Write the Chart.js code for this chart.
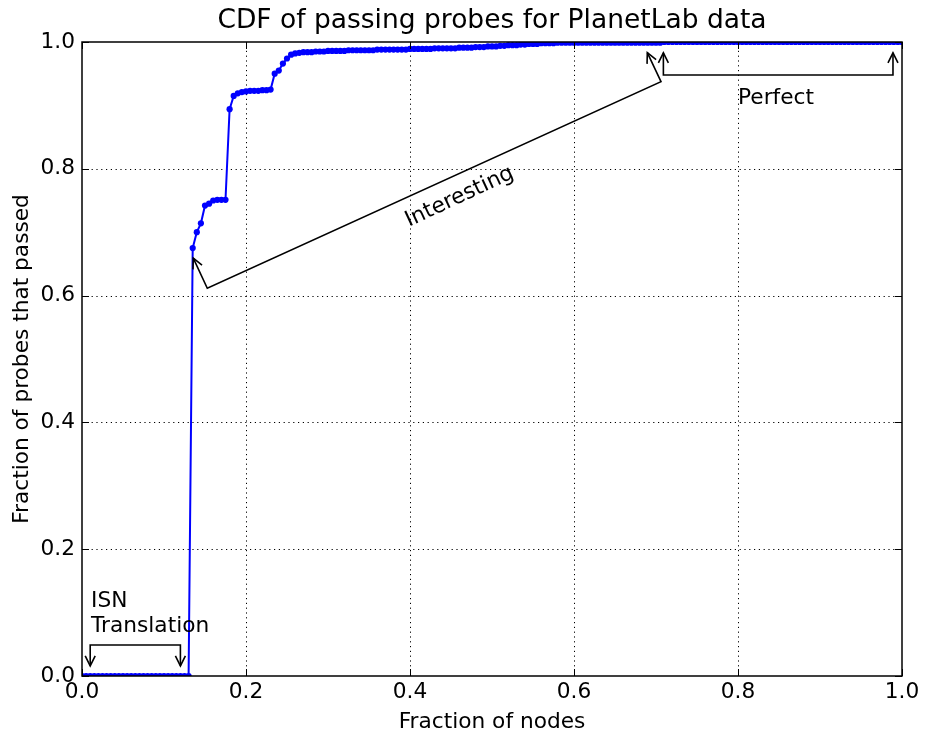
<!DOCTYPE html>
<html><head><meta charset="utf-8">
<script src="https://cdn.jsdelivr.net/npm/chart.js@4/dist/chart.umd.min.js"></script>
<style>html,body{margin:0;padding:0;background:#fff}#wrap{width:925px;height:737px}</style>
</head><body><div id="wrap"><canvas id="c" width="925" height="737"></canvas></div>
<script>
// Fraction of nodes (x) and fraction of probes that passed (y)
const nodeFraction = [
0,0.005,0.01,0.015,0.02,0.025,0.03,0.035,0.04,0.045,
0.05,0.055,0.06,0.065,0.07,0.075,0.08,0.085,0.09,0.095,
0.1,0.105,0.11,0.115,0.12,0.125,0.13,0.135,0.14,0.145,
0.15,0.155,0.16,0.165,0.17,0.175,0.18,0.185,0.19,0.195,
0.2,0.205,0.21,0.215,0.22,0.225,0.23,0.235,0.24,0.245,
0.25,0.255,0.26,0.265,0.27,0.275,0.28,0.285,0.29,0.295,
0.3,0.305,0.31,0.315,0.32,0.325,0.33,0.335,0.34,0.345,
0.35,0.355,0.36,0.365,0.37,0.375,0.38,0.385,0.39,0.395,
0.4,0.405,0.41,0.415,0.42,0.425,0.43,0.435,0.44,0.445,
0.45,0.455,0.46,0.465,0.47,0.475,0.48,0.485,0.49,0.495,
0.5,0.505,0.51,0.515,0.52,0.525,0.53,0.535,0.54,0.545,
0.55,0.555,0.56,0.565,0.57,0.575,0.58,0.585,0.59,0.595,
0.6,0.605,0.61,0.615,0.62,0.625,0.63,0.635,0.64,0.645,
0.65,0.655,0.66,0.665,0.67,0.675,0.68,0.685,0.69,0.695,
0.7,0.705,0.71,0.715,0.72,0.725,0.73,0.735,0.74,0.745,
0.75,0.755,0.76,0.765,0.77,0.775,0.78,0.785,0.79,0.795,
0.8,0.805,0.81,0.815,0.82,0.825,0.83,0.835,0.84,0.845,
0.85,0.855,0.86,0.865,0.87,0.875,0.88,0.885,0.89,0.895,
0.9,0.905,0.91,0.915,0.92,0.925,0.93,0.935,0.94,0.945,
0.95,0.955,0.96,0.965,0.97,0.975,0.98,0.985,0.99,0.995,
1
];
const passFraction = [
0,0,0,0,0,0,0,0,0,0,
0,0,0,0,0,0,0,0,0,0,
0,0,0,0,0,0,0,0.675,0.700,0.714,
0.742,0.745,0.750,0.751,0.751,0.751,0.894,0.915,0.919,0.921,
0.922,0.923,0.923,0.923,0.924,0.924,0.925,0.950,0.955,0.966,
0.974,0.980,0.982,0.983,0.984,0.984,0.984,0.985,0.985,0.985,
0.986,0.986,0.986,0.986,0.986,0.987,0.987,0.987,0.987,0.987,
0.987,0.987,0.988,0.988,0.988,0.988,0.988,0.988,0.988,0.988,
0.989,0.989,0.989,0.989,0.989,0.989,0.990,0.990,0.990,0.990,
0.990,0.990,0.991,0.991,0.991,0.991,0.992,0.992,0.992,0.993,
0.993,0.993,0.994,0.994,0.995,0.995,0.995,0.996,0.996,0.997,
0.997,0.997,0.998,0.998,0.998,0.998,0.999,0.999,0.999,0.999,
0.999,0.999,0.999,0.999,0.999,0.999,0.999,0.999,0.999,0.999,
0.999,0.999,0.999,0.999,0.999,0.999,0.999,0.999,0.999,0.999,
0.999,0.999,1,1,1,1,1,1,1,1,
1,1,1,1,1,1,1,1,1,1,
1,1,1,1,1,1,1,1,1,1,
1,1,1,1,1,1,1,1,1,1,
1,1,1,1,1,1,1,1,1,1,
1,1,1,1,1,1,1,1,1,1,
1
];
const xTickValues = [0, 0.2, 0.4, 0.6, 0.8, 1.0];
const yTickValues = [0, 0.2, 0.4, 0.6, 0.8, 1.0];
const chartTitle = 'CDF of passing probes for PlanetLab data';
const xAxisTitle = 'Fraction of nodes';
const yAxisTitle = 'Fraction of probes that passed';
const labelIsn = ['ISN', 'Translation'];
const labelInteresting = 'Interesting';
const labelPerfect = 'Perfect';

const FONT = "'DejaVu Sans', sans-serif";
const SMALL = 21.7;

function arrowHead(ctx, tx, ty, fx, fy) {
  const dx = tx - fx, dy = ty - fy;
  const len = Math.hypot(dx, dy);
  const ux = dx / len, uy = dy / len;
  const L = 10, W = 5;
  ctx.beginPath();
  ctx.moveTo(tx - L * ux + W * uy, ty - L * uy - W * ux);
  ctx.lineTo(tx, ty);
  ctx.lineTo(tx - L * ux - W * uy, ty - L * uy + W * ux);
  ctx.stroke();
}

const framePlugin = {
  id: 'framePlugin',
  beforeDatasetsDraw(chart) {
    const {ctx, chartArea: a, scales: {x, y}} = chart;
    ctx.save();
    ctx.strokeStyle = '#000';
    ctx.lineWidth = 1;
    ctx.setLineDash([1.2, 3.6]);
    xTickValues.forEach(v => {
      if (v <= 0 || v >= 1) return;
      const px = Math.round(x.getPixelForValue(v)) + 0.5;
      ctx.beginPath(); ctx.moveTo(px, a.bottom); ctx.lineTo(px, a.top); ctx.stroke();
    });
    yTickValues.forEach(v => {
      if (v <= 0 || v >= 1) return;
      const py = Math.round(y.getPixelForValue(v)) + 0.5;
      ctx.beginPath(); ctx.moveTo(a.left, py); ctx.lineTo(a.right, py); ctx.stroke();
    });
    ctx.restore();
  },
  afterDatasetsDraw(chart) {
    const {ctx, chartArea: a, scales: {x, y}} = chart;
    ctx.save();
    ctx.strokeStyle = '#000';
    ctx.lineWidth = 1.5;
    ctx.setLineDash([]);
    ctx.strokeRect(a.left, a.top, a.right - a.left, a.bottom - a.top);
    const T = 7;
    ctx.lineWidth = 1;
    xTickValues.forEach(v => {
      const px = Math.round(x.getPixelForValue(v)) + 0.5;
      ctx.beginPath();
      ctx.moveTo(px, a.bottom); ctx.lineTo(px, a.bottom - T);
      ctx.moveTo(px, a.top); ctx.lineTo(px, a.top + T);
      ctx.stroke();
    });
    yTickValues.forEach(v => {
      const py = Math.round(y.getPixelForValue(v)) + 0.5;
      ctx.beginPath();
      ctx.moveTo(a.left, py); ctx.lineTo(a.left + T, py);
      ctx.moveTo(a.right, py); ctx.lineTo(a.right - T, py);
      ctx.stroke();
    });

    const X = v => x.getPixelForValue(v), Y = v => y.getPixelForValue(v);
    ctx.lineWidth = 1.6;
    ctx.lineJoin = 'miter';
    const path = pts => {
      ctx.beginPath();
      pts.forEach((p, i) => i ? ctx.lineTo(X(p[0]), Y(p[1])) : ctx.moveTo(X(p[0]), Y(p[1])));
      ctx.stroke();
    };
    // ISN Translation bracket
    path([[0.01, 0.016], [0.01, 0.049], [0.12, 0.049], [0.12, 0.016]]);
    arrowHead(ctx, X(0.01), Y(0.016), X(0.01), Y(0.049));
    arrowHead(ctx, X(0.12), Y(0.016), X(0.12), Y(0.049));
    // Interesting
    path([[0.1357, 0.659], [0.1528, 0.6115], [0.7061, 0.9374], [0.6894, 0.9831]]);
    arrowHead(ctx, X(0.1357), Y(0.659), X(0.1528), Y(0.6115));
    arrowHead(ctx, X(0.6894), Y(0.9831), X(0.7061), Y(0.9374));
    // Perfect
    path([[0.709, 0.983], [0.709, 0.948], [0.989, 0.948], [0.989, 0.983]]);
    arrowHead(ctx, X(0.709), Y(0.983), X(0.709), Y(0.948));
    arrowHead(ctx, X(0.989), Y(0.983), X(0.989), Y(0.948));

    ctx.fillStyle = '#000';
    ctx.font = SMALL + 'px ' + FONT;
    ctx.textAlign = 'left';
    ctx.textBaseline = 'alphabetic';
    ctx.fillText(labelIsn[0], X(0.011), Y(0.109));
    ctx.fillText(labelIsn[1], X(0.011), Y(0.0694));
    ctx.fillText(labelPerfect, X(0.80), Y(0.902));
    ctx.save();
    ctx.translate(X(0.4605), Y(0.7555));
    ctx.rotate(-25 * Math.PI / 180);
    ctx.textAlign = 'center';
    ctx.textBaseline = 'middle';
    ctx.fillText(labelInteresting, 0, 0);
    ctx.restore();
    ctx.restore();
  }
};

new Chart(document.getElementById('c'), {
  type: 'line',
  data: {
    datasets: [{
      data: nodeFraction.map((v, i) => ({x: v, y: passFraction[i]})),
      borderColor: '#0000ff',
      backgroundColor: '#0000ff',
      borderWidth: 2,
      pointRadius: 3.1,
      pointBorderWidth: 0,
      pointBackgroundColor: '#0000ff',
      tension: 0,
      fill: false,
      clip: 0
    }]
  },
  options: {
    responsive: false,
    animation: false,
    devicePixelRatio: 1,
    layout: {padding: {left: 0, right: 23, top: 0, bottom: 0}},
    plugins: {
      legend: {display: false},
      tooltip: {enabled: false},
      title: {
        display: true, text: chartTitle, color: '#000', fullSize: false,
        font: {family: FONT, size: 26.5, weight: 'normal'},
        padding: {top: 5, bottom: 5.2}
      }
    },
    scales: {
      x: {
        type: 'linear', min: 0, max: 1,
        afterBuildTicks: s => { s.ticks = xTickValues.map(v => ({value: v})); },
        afterFit: s => { s.height = 61; },
        ticks: {color: '#000', font: {family: FONT, size: SMALL}, padding: 3, maxRotation: 0,
          callback: v => Number(v).toFixed(1)},
        grid: {display: false, drawTicks: false},
        border: {display: false},
        title: {display: true, text: xAxisTitle, color: '#000', font: {family: FONT, size: SMALL}, padding: {top: 0, bottom: 2}}
      },
      y: {
        type: 'linear', min: 0, max: 1,
        afterBuildTicks: s => { s.ticks = yTickValues.map(v => ({value: v})); },
        afterFit: s => { s.width = 82; },
        ticks: {color: '#000', font: {family: FONT, size: SMALL}, padding: 7,
          callback: v => Number(v).toFixed(1)},
        grid: {display: false, drawTicks: false},
        border: {display: false},
        title: {display: true, text: yAxisTitle, color: '#000', font: {family: FONT, size: SMALL}, padding: {top: 9, bottom: 0}}
      }
    }
  },
  plugins: [framePlugin]
});
</script>
</body></html>
